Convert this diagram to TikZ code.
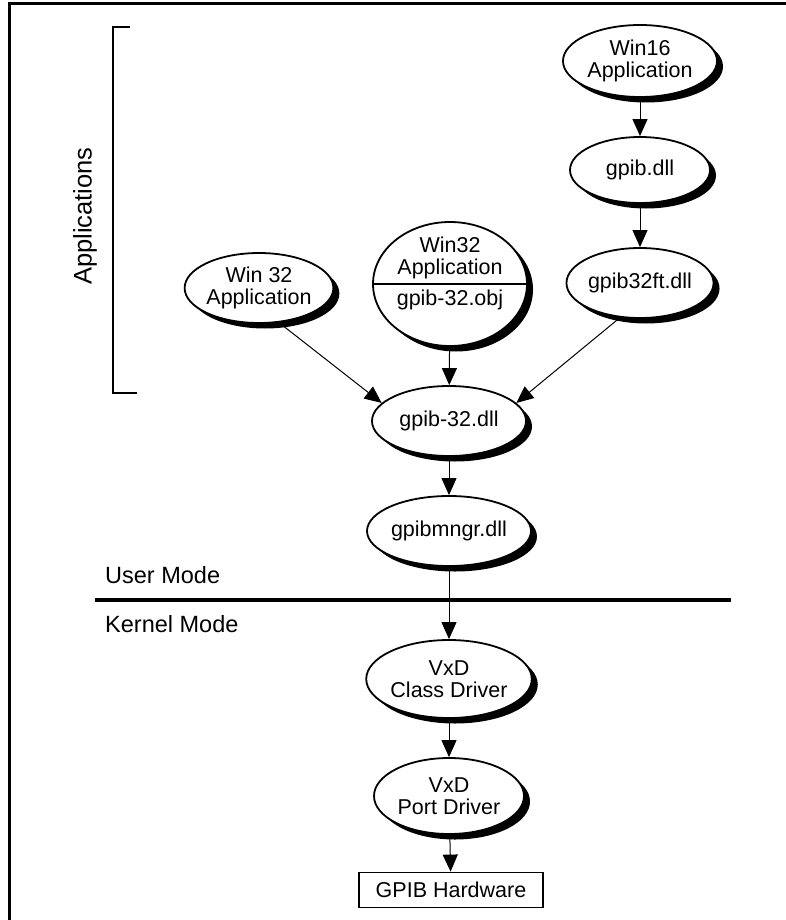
\documentclass[tikz,border=0pt]{standalone}
\usepackage{fontspec}
\setmainfont{Liberation Sans}
\usetikzlibrary{shapes.geometric,arrows.meta,shadows}
\begin{document}
\begin{tikzpicture}[x=1pt,y=-1pt,
  ell/.style={ellipse, draw=black, line width=1.8pt, fill=white, inner sep=0pt,
    align=center, font=\fontsize{21.5}{22}\selectfont,
    general shadow={fill=black, shadow xshift=6pt, shadow yshift=-5.5pt}},
  txt/.style={align=center, inner sep=0pt, font=\fontsize{21.5}{22}\selectfont},
  arr/.style={line width=1pt, -{Triangle[length=17pt,width=15pt]}},
  modelbl/.style={anchor=base west, inner sep=0pt, font=\fontsize{23.5}{24}\selectfont}]
\useasboundingbox (0,0) rectangle (786,920);
% frame
\draw[line width=3pt] (9,920) -- (9,4) -- (786,4);
% bracket
\draw[line width=2.5pt] (130,27) -- (113,27) -- (113,393) -- (137,393);
\node[txt, rotate=90, font=\fontsize{25.5}{26}\selectfont] (apps) at (85,216) {Applications};
% nodes
\node[ell, minimum width=154pt, minimum height=72pt] (w16) at (640,61) {Win16\\Application};
\node[ell, minimum width=140pt, minimum height=66pt] (gdll) at (640,170) {gpib.dll};
\node[ell, minimum width=146pt, minimum height=70pt] (g32ft) at (640,283) {gpib32ft.dll};
\node[ell, minimum width=148pt, minimum height=70pt] (w32) at (259,288) {Win 32\\Application};
\node[ell, minimum width=154pt, minimum height=124pt] (wobj) at (450,284) {};
\draw[line width=2.5pt] (wobj.west) -- (wobj.east);
\node[txt] (wobjt) at (450,258) {Win32\\Application};
\node[txt] (wobjb) at (450,300) {gpib-32.obj};
\node[ell, minimum width=154pt, minimum height=70pt] (g32) at (449,421) {gpib-32.dll};
\node[ell, minimum width=136pt, minimum height=70pt] (mngr) at (449,531) {gpibmngr.dll};
\node[ell, minimum width=156pt, minimum height=78pt] (vxdc) at (449,679) {VxD\\Class Driver};
\node[ell, minimum width=150pt, minimum height=76pt] (vxdp) at (449,796) {VxD\\Port Driver};
\node[draw=black, line width=1.8pt, minimum width=184pt, minimum height=35pt, inner sep=0pt,
  font=\fontsize{21.5}{22}\selectfont] (hw) at (451,890) {GPIB Hardware};
% mode separator
\draw[line width=4pt] (95,600) -- (731,600);
\node[modelbl] (um) at (105,583) {User Mode};
\node[modelbl] (km) at (105,632) {Kernel Mode};
% connectors
\draw[arr] (w16) -- (gdll);
\draw[arr] (gdll) -- (g32ft);
\draw[arr] (wobj) -- (g32);
\draw[arr] (w32.-60) -- (g32.165);
\draw[arr] (g32ft.-120) -- (g32.15);
\draw[arr] (g32) -- (mngr);
\draw[arr] (mngr) -- (vxdc);
\draw[arr] (vxdc) -- (vxdp);
\draw[arr] (vxdp) -- (hw);
\end{tikzpicture}
\end{document}
